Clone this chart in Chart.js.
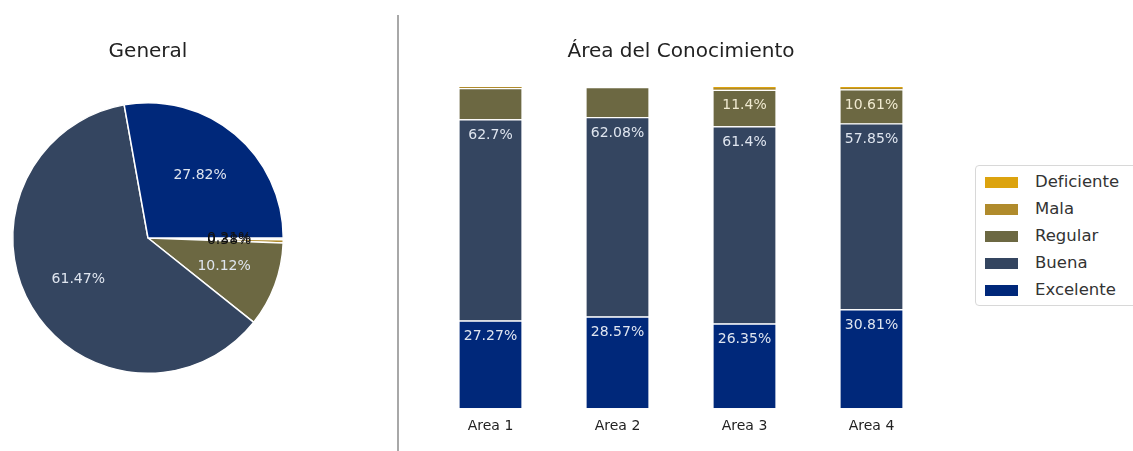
<!DOCTYPE html>
<html lang="es">
<head>
  <meta charset="UTF-8" />
  <title>Área del Conocimiento</title>
  <script src="https://cdn.jsdelivr.net/npm/chart.js"></script>
  <style>
    body { margin: 0; background: #fff; font-family: 'DejaVu Sans', sans-serif; }
    .wrap { position: relative; width: 1133px; height: 451px; overflow: hidden; }
    #pieBox { position: absolute; left: 0; top: 0; width: 300px; height: 451px; }
    #barBox { position: absolute; left: 400px; top: 0; width: 733px; height: 451px; }
    .sep { position: absolute; left: 397px; top: 15px; width: 2px; height: 436px; background: #a8a8a8; }
    .legend {
      position: absolute; left: 975px; top: 165px; width: 175px; height: 139px;
      border: 1px solid #d8d8d8; border-radius: 4px; background: #fff;
    }
    .legend .item { position: absolute; left: 9px; height: 20px; }
    .legend .patch { position: absolute; left: 0; top: 5px; width: 33px; height: 11px; }
    .legend .lbl { position: absolute; left: 50px; top: 0; font-size: 16.5px; color: #333; white-space: nowrap; line-height: 20px; }
  </style>
</head>
<body>
<div class="wrap">
  <div id="pieBox"><canvas id="pieChart"></canvas></div>
  <div class="sep"></div>
  <div id="barBox"><canvas id="barChart"></canvas></div>
  <div class="legend" id="legend"></div>
</div>

<script>
  // categories / series
  const levels = ['Excelente', 'Buena', 'Regular', 'Mala', 'Deficiente'];
  const levelColors = ['#00287a', '#344560', '#6c6842', '#b08b2c', '#dca30e'];

  const generalPct = [27.82, 61.47, 10.12, 0.38, 0.21];

  const areas = ['Area 1', 'Area 2', 'Area 3', 'Area 4'];
  const excelente = [27.27, 28.57, 26.35, 30.81];
  const buena = [62.70, 62.08, 61.40, 57.85];
  const regular = [9.73, 9.35, 11.40, 10.61];
  const mala = [0.30, 0.00, 0.50, 0.40];
  const deficiente = [0.00, 0.00, 0.35, 0.33];

  Chart.defaults.font.family = "'DejaVu Sans', sans-serif";
  Chart.defaults.color = '#222';

  const fmt = v => (Math.round(v * 100) / 100) + '%';

  // pie labels at 0.6 of the radius like matplotlib's pctdistance
  const pieLabels = {
    id: 'pieLabels',
    afterDatasetsDraw(chart) {
      const ctx = chart.ctx;
      const meta = chart.getDatasetMeta(0);
      const vals = chart.data.datasets[0].data;
      ctx.save();
      ctx.font = '14px "DejaVu Sans"';
      ctx.textAlign = 'center';
      ctx.textBaseline = 'middle';
      meta.data.forEach((arc, i) => {
        const v = vals[i];
        const mid = (arc.startAngle + arc.endAngle) / 2;
        const r = arc.outerRadius * 0.6;
        ctx.fillStyle = v < 1 ? '#111' : '#dfe5ef';
        ctx.fillText(fmt(v), arc.x + r * Math.cos(mid), arc.y + r * Math.sin(mid));
      });
      ctx.restore();
    }
  };

  // pie drawn clockwise in reversed order so it matches a counter-clockwise start at 3 o'clock
  new Chart(document.getElementById('pieChart'), {
    type: 'pie',
    data: {
      labels: levels.slice().reverse(),
      datasets: [{
        data: generalPct.slice().reverse(),
        backgroundColor: levelColors.slice().reverse(),
        borderColor: '#ffffff',
        borderWidth: 1.5
      }]
    },
    options: {
      responsive: true,
      maintainAspectRatio: false,
      animation: false,
      rotation: 90,
      layout: { padding: { left: 12, right: 16, top: 0, bottom: 77 } },
      plugins: {
        legend: { display: false },
        tooltip: { enabled: false },
        title: {
          display: true, text: 'General', color: '#222',
          font: { size: 20, weight: 'normal' },
          padding: { top: 40, bottom: 38 }
        }
      }
    },
    plugins: [pieLabels]
  });

  // bar labels: near the top of each segment (5 points below it)
  const barLabels = {
    id: 'barLabels',
    afterDatasetsDraw(chart) {
      const ctx = chart.ctx;
      const yScale = chart.scales.y;
      ctx.save();
      ctx.font = '14px "DejaVu Sans"';
      ctx.textAlign = 'center';
      ctx.textBaseline = 'middle';
      areas.forEach((a, j) => {
        let cum = 0;
        chart.data.datasets.forEach((ds, di) => {
          const v = ds.data[j];
          cum += v;
          if (v < 10) return;
          const bar = chart.getDatasetMeta(di).data[j];
          ctx.fillStyle = di === 2 ? '#f0ead0' : '#dfe5ef';
          ctx.fillText(fmt(v), bar.x, yScale.getPixelForValue(cum - 5));
        });
      });
      ctx.restore();
    }
  };

  const series = [excelente, buena, regular, mala, deficiente];

  new Chart(document.getElementById('barChart'), {
    type: 'bar',
    data: {
      labels: areas,
      datasets: series.map((d, i) => ({
        label: levels[i],
        data: d,
        backgroundColor: levelColors[i],
        borderColor: '#ffffff',
        borderWidth: i < 3 ? { top: 1.2 } : 0,
        borderSkipped: false,
        barPercentage: 0.49,
        categoryPercentage: 1.0
      }))
    },
    options: {
      responsive: true,
      maintainAspectRatio: false,
      animation: false,
      layout: { padding: { left: 27, right: 198, top: 0, bottom: 6 } },
      scales: {
        x: {
          stacked: true,
          grid: { display: false, drawTicks: false },
          border: { display: false },
          ticks: { color: '#222', font: { size: 14 }, padding: 10 }
        },
        y: {
          stacked: true,
          display: false,
          min: 0,
          max: 100
        }
      },
      plugins: {
        legend: { display: false },
        tooltip: { enabled: false },
        title: {
          display: true, text: 'Área del Conocimiento', color: '#222',
          font: { size: 20, weight: 'normal' },
          padding: { top: 40, bottom: 23 }
        }
      }
    },
    plugins: [barLabels]
  });

  // legend, top entry is the top of the stack
  const legend = document.getElementById('legend');
  levels.slice().reverse().forEach((name, k) => {
    const idx = levels.length - 1 - k;
    const item = document.createElement('div');
    item.className = 'item';
    item.style.top = (6 + k * 27) + 'px';
    item.innerHTML = '<div class="patch" style="background:' + levelColors[idx] + '"></div>' +
      '<div class="lbl">' + name + '</div>';
    legend.appendChild(item);
  });
</script>
</body>
</html>
